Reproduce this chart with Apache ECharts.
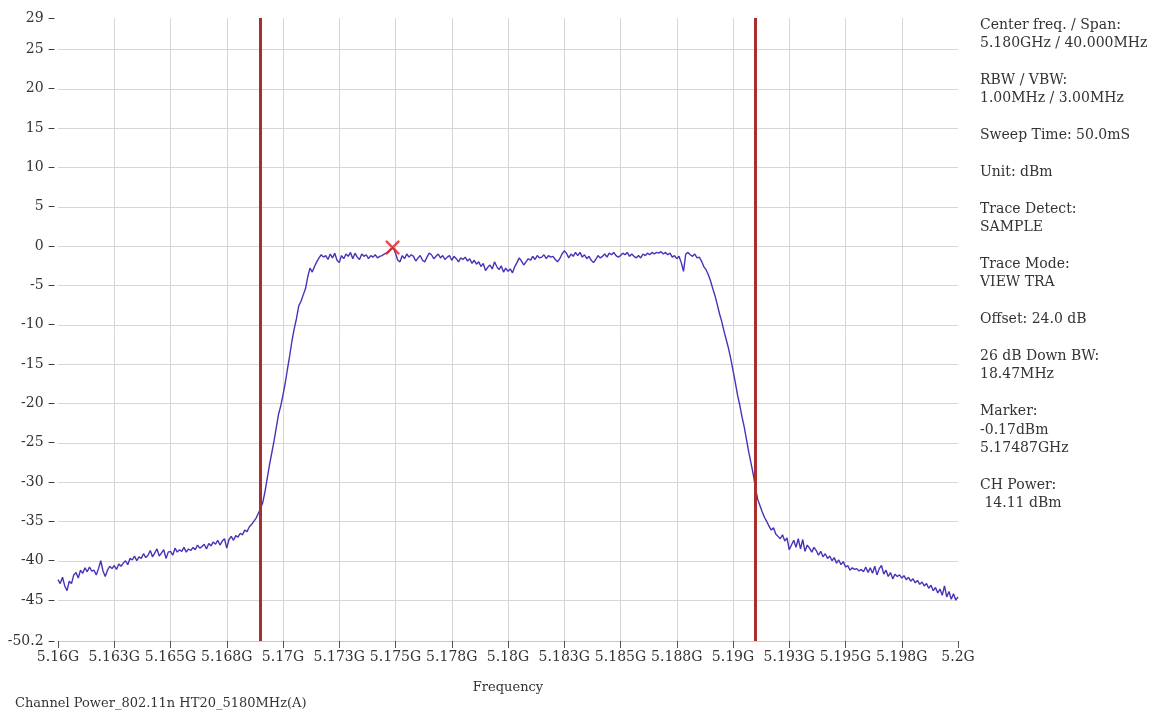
<!DOCTYPE html>
<html><head><meta charset="utf-8">
<script src="https://cdn.jsdelivr.net/npm/echarts@6/dist/echarts.min.js"></script>
<style>html,body{margin:0;padding:0;background:#fff}#c{width:1157px;height:715px}</style>
</head><body><div id="c"></div>
<script>
// Trace levels (dBm), one value every 0.1 MHz from 5160.0 MHz
const levelsLeftTail = [ // 5160.0 - 5169.0
 -42.4,-42.9,-42.1,-43.2,-43.8,-42.6,-42.9,-41.8,-41.5,-42.2,
 -41.2,-41.6,-40.9,-41.4,-40.8,-41.3,-41.2,-41.8,-41.0,-40.0,
 -41.3,-42.0,-41.2,-40.7,-41.0,-40.6,-41.1,-40.4,-40.7,-40.3,
 -40.0,-40.5,-39.7,-39.9,-39.4,-40.0,-39.5,-39.7,-39.1,-39.6,
 -39.3,-38.7,-39.5,-39.0,-38.5,-39.4,-39.0,-38.6,-39.7,-38.9,
 -38.8,-39.3,-38.4,-38.9,-38.6,-38.8,-38.3,-38.9,-38.5,-38.7,
 -38.3,-38.6,-38.0,-38.4,-38.2,-37.9,-38.5,-37.8,-38.1,-37.6,
 -37.9,-37.4,-38.0,-37.5,-37.2,-38.4,-37.3,-36.9,-37.4,-36.8,
 -37.0,-36.5,-36.7,-36.1,-36.3,-35.7,-35.4,-35.0,-34.6,-34.0,
 -33.4
];
const levelsRisingEdge = [ // 5169.1 - 5172.0
 -32.6,-31.2,-29.5,-27.8,-26.3,-24.8,-23.1,-21.4,-20.3,-18.9,
 -17.4,-15.6,-13.9,-12.0,-10.5,-9.2,-7.6,-7.0,-6.2,-5.4,
 -3.9,-2.8,-3.3,-2.6,-2.0,-1.5,-1.1,-1.4,-1.2,-1.7
];
const levelsPlateau = [ // 5172.1 - 5188.5
 -1.0,-1.5,-0.9,-1.8,-2.1,-1.2,-1.6,-1.0,-1.3,-0.8,
 -1.6,-0.9,-1.4,-1.7,-1.0,-1.3,-1.1,-1.6,-1.2,-1.4,
 -1.1,-1.5,-1.3,-1.2,-1.0,-0.9,-0.7,-0.4,-0.2,-0.9,
 -1.8,-2.0,-1.2,-1.6,-1.0,-1.4,-1.1,-1.3,-1.9,-1.5,
 -1.2,-1.8,-2.0,-1.4,-0.9,-1.1,-1.6,-1.3,-1.0,-1.5,
 -1.2,-1.7,-1.4,-1.2,-1.8,-1.3,-1.6,-2.0,-1.5,-1.7,
 -1.4,-1.9,-1.6,-2.2,-1.8,-2.3,-2.0,-2.6,-2.2,-3.1,
 -2.7,-2.4,-2.9,-2.0,-2.6,-3.0,-2.5,-3.3,-2.8,-3.2,
 -2.9,-3.4,-2.6,-2.1,-1.5,-1.9,-2.4,-2.0,-1.6,-1.8,
 -1.3,-1.7,-1.2,-1.5,-1.4,-1.1,-1.6,-1.2,-1.4,-1.3,
 -1.7,-2.0,-1.6,-1.0,-0.6,-0.9,-1.5,-1.0,-1.3,-0.8,
 -1.2,-0.8,-1.4,-1.1,-1.6,-1.3,-1.8,-2.1,-1.7,-1.2,
 -1.5,-1.3,-1.0,-1.4,-0.9,-1.1,-0.8,-1.2,-1.4,-1.2,
 -0.9,-1.1,-0.8,-1.3,-1.0,-1.3,-1.5,-1.2,-1.5,-1.0,
 -1.2,-0.9,-1.1,-0.8,-1.0,-0.8,-0.9,-0.7,-1.0,-0.8,
 -1.1,-0.9,-1.4,-1.2,-1.6,-1.3,-2.1,-3.2,-1.0,-0.8,
 -1.1,-1.3,-1.0,-1.5,-1.4
];
const levelsFallingEdge = [ // 5188.6 - 5191.0
 -1.9,-2.6,-3.0,-3.6,-4.4,
 -5.4,-6.3,-7.4,-8.6,-9.6,-10.8,-11.9,-13.0,-14.3,-15.8,
 -17.3,-18.9,-20.2,-21.7,-23.0,-24.6,-26.2,-27.6,-29.0,-30.8
];
const levelsRightTail = [ // 5191.1 - 5200.0
 -32.2,-33.0,-33.8,-34.5,-35.0,-35.6,-36.1,-35.8,-36.6,-36.9,
 -37.2,-36.7,-37.5,-37.1,-38.6,-38.0,-37.4,-38.3,-37.2,-38.5,
 -37.3,-38.8,-38.0,-38.4,-38.9,-38.3,-38.7,-39.3,-38.8,-39.5,
 -39.1,-39.7,-39.4,-40.0,-39.6,-40.3,-39.9,-40.5,-40.1,-40.8,
 -40.6,-41.2,-40.9,-41.1,-41.0,-41.3,-41.1,-41.4,-40.8,-41.5,
 -40.9,-41.6,-40.7,-41.8,-41.0,-40.6,-41.7,-41.2,-42.0,-41.5,
 -42.3,-41.7,-42.0,-41.8,-42.2,-41.9,-42.4,-42.1,-42.6,-42.3,
 -42.8,-42.5,-43.0,-42.7,-43.2,-42.9,-43.5,-43.1,-43.8,-43.4,
 -44.1,-43.6,-44.4,-43.2,-44.6,-43.9,-44.9,-44.2,-45.0,-44.6
];
const sweepStartMHz = 5160;
const sweepStepMHz = 0.1;

const xMinMHz = 5160, xMaxMHz = 5200, xTickMHz = 2.5;
const yMin = -50.2, yMax = 29;
const yLabelValues = [-50.2, -45, -40, -35, -30, -25, -20, -15, -10, -5, 0, 5, 10, 15, 20, 25, 29];
const yGridValues = [-50.2, -45, -40, -35, -30, -25, -20, -15, -10, -5, 0, 5, 10, 15, 20, 25];
const channelEdgesMHz = [5169, 5191];
const markerPoint = [5174.87, -0.17];
const xAxisName = 'Frequency';
const caption = 'Channel Power_802.11n HT20_5180MHz(A)';
const infoLines = [
 'Center freq. / Span:', '5.180GHz / 40.000MHz', '',
 'RBW / VBW:', '1.00MHz / 3.00MHz', '',
 'Sweep Time: 50.0mS', '',
 'Unit: dBm', '',
 'Trace Detect:', 'SAMPLE', '',
 'Trace Mode:', 'VIEW TRA', '',
 'Offset: 24.0 dB', '',
 '26 dB Down BW:', '18.47MHz', '',
 'Marker:', '-0.17dBm', '5.17487GHz', '',
 'CH Power:', ' 14.11 dBm'
];

const levels = [].concat(levelsLeftTail, levelsRisingEdge, levelsPlateau, levelsFallingEdge, levelsRightTail);
const traceData = levels.map((v, i) => [+(sweepStartMHz + i * sweepStepMHz).toFixed(1), v]);

const FONT = 'DejaVu Serif';
const TXT = '#333';
const chart = echarts.init(document.getElementById('c'), null, {renderer: 'canvas'});
chart.setOption({
  animation: false,
  backgroundColor: '#fff',
  grid: {left: 58, right: 199, top: 18, height: 623},
  xAxis: {
    type: 'value', min: xMinMHz, max: xMaxMHz, interval: xTickMHz,
    name: xAxisName, nameLocation: 'middle', nameGap: 40,
    nameTextStyle: {fontFamily: FONT, fontSize: 13, color: TXT},
    axisLine: {show: true, onZero: false, lineStyle: {color: '#c8c8c8', width: 1}},
    axisTick: {show: true, length: 7, lineStyle: {color: '#555'}},
    axisLabel: {
      margin: 9, fontFamily: FONT, fontSize: 14, color: TXT,
      formatter: v => String(Math.round(v) / 1000) + 'G'
    },
    splitLine: {show: true, showMinLine: false, showMaxLine: false, lineStyle: {color: '#d6d6d6', width: 1}}
  },
  yAxis: {
    type: 'value', min: yMin, max: yMax,
    axisLine: {show: false},
    axisTick: {show: false, customValues: yGridValues},
    axisLabel: {
      customValues: yLabelValues, margin: 3, fontFamily: FONT, fontSize: 14, color: TXT,
      formatter: v => String(v) + ' \u2013'
    },
    splitLine: {show: true, lineStyle: {color: '#d6d6d6', width: 1}}
  },
  series: [
    {
      type: 'line', data: traceData, showSymbol: false, symbol: 'none',
      lineStyle: {color: '#4534b8', width: 1.4}, z: 3,
      markLine: {
        silent: true, symbol: 'none', label: {show: false},
        lineStyle: {color: '#a8302c', width: 3, type: 'solid'},
        data: channelEdgesMHz.map(f => ({xAxis: f}))
      }
    },
    {
      type: 'scatter', data: [markerPoint], z: 5,
      symbol: 'path://M0,1.2 L1.2,0 L5,3.8 L8.8,0 L10,1.2 L6.2,5 L10,8.8 L8.8,10 L5,6.2 L1.2,10 L0,8.8 L3.8,5 Z',
      symbolSize: 15, itemStyle: {color: '#e02424'}
    }
  ],
  graphic: [
    {type: 'text', left: 980, top: 16, style: {text: infoLines.join('\n'), font: '14px "DejaVu Serif"', lineHeight: 18.4, fill: TXT}},
    {type: 'text', left: 15, top: 697, style: {text: caption, font: '13px "DejaVu Serif"', fill: TXT}}
  ]
});
</script></body></html>
